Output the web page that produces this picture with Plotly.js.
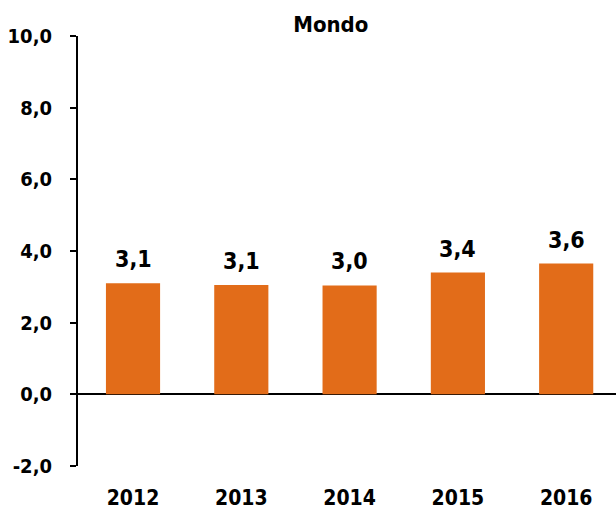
<!DOCTYPE html>
<html>
<head>
<meta charset="utf-8">
<script src="https://cdn.plot.ly/plotly-3.0.1.min.js"></script>
<style>
  body { margin: 0; }
  #chart { width: 616px; height: 512px; }
</style>
</head>
<body>
<div id="chart"></div>
<script>
const years = ['2012', '2013', '2014', '2015', '2016'];
const growth = [3.1, 3.05, 3.04, 3.4, 3.65];
const growthLabels = ['3,1', '3,1', '3,0', '3,4', '3,6'];
const yTicks = [-2, 0, 2, 4, 6, 8, 10];
const yTickText = ['-2,0', '0,0', '2,0', '4,0', '6,0', '8,0', '10,0'];

const fontFamily = '"DejaVu Sans Condensed", "DejaVu Sans", sans-serif';

const bars = {
  type: 'bar',
  x: years,
  y: growth,
  width: 0.5,
  marker: { color: '#E26C19' },
  hoverinfo: 'skip'
};

// x given as category index so '2012' is not read as a number
const labels = years.map((yr, i) => ({
  x: i,
  y: growth[i],
  text: '<b>' + growthLabels[i] + '</b>',
  showarrow: false,
  yanchor: 'bottom',
  yshift: 9,
  font: { family: fontFamily, size: 23, color: '#000' }
}));

const layout = {
  width: 616,
  height: 512,
  margin: { l: 78, r: 0, t: 36, b: 46 },
  paper_bgcolor: '#fff',
  plot_bgcolor: '#fff',
  showlegend: false,
  title: {
    text: '<b>Mondo</b>',
    x: 0.537,
    xanchor: 'center',
    y: 0.953,
    yanchor: 'middle',
    font: { family: fontFamily, size: 22, color: '#000' }
  },
  xaxis: {
    type: 'category',
    range: [-0.508, 4.46],
    showline: false,
    showgrid: false,
    zeroline: false,
    ticks: '',
    ticklabelstandoff: 17,
    tickfont: { family: fontFamily, size: 21, color: '#000', weight: 700 }
  },
  yaxis: {
    range: [-2, 10],
    tickvals: yTicks,
    ticktext: yTickText.map(t => '<b>' + t + '</b>'),
    showline: true,
    linecolor: '#000',
    linewidth: 2,
    ticks: 'outside',
    ticklen: 6,
    tickwidth: 2,
    tickcolor: '#000',
    showgrid: false,
    zeroline: true,
    zerolinecolor: '#000',
    zerolinewidth: 2,
    ticklabelstandoff: 14,
    tickfont: { family: fontFamily, size: 20, color: '#000' }
  },
  annotations: labels
};

Plotly.newPlot('chart', [bars], layout, { displayModeBar: false, staticPlot: true });
</script>
</body>
</html>
